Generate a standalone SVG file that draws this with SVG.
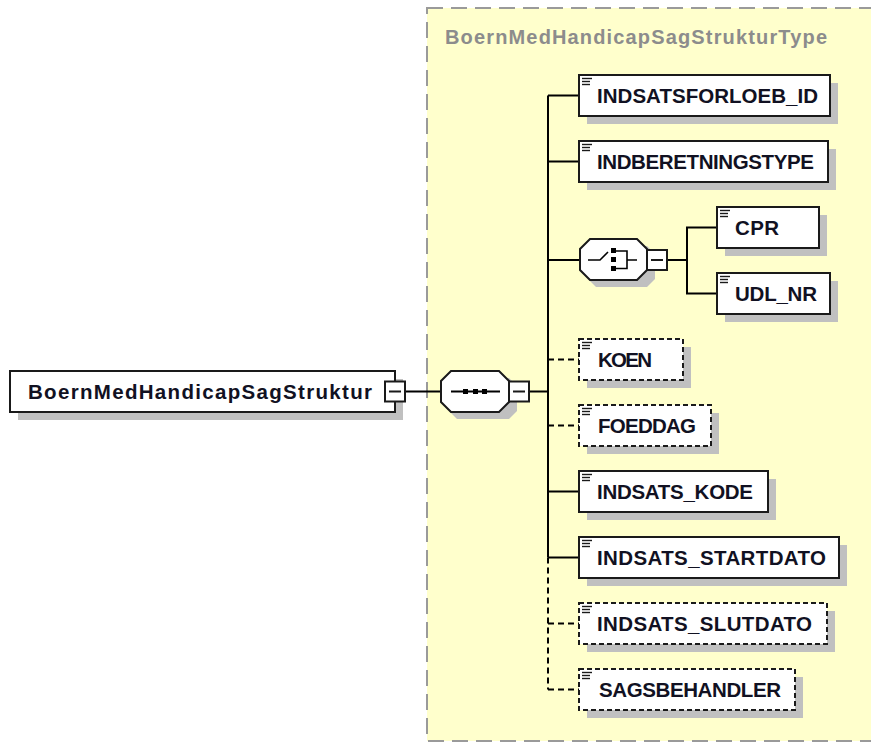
<svg xmlns="http://www.w3.org/2000/svg" width="871" height="742" viewBox="0 0 871 742">
<defs>
<style>
.bg{fill:#ffffff}
.type{fill:#ffffcc;stroke:#9a9a9a;stroke-width:2;stroke-dasharray:16 8}
.title{font-family:"Liberation Sans",Arial,sans-serif;font-weight:bold;font-size:20px;fill:#8c8c8c}
.shadow{fill:#c0c0c0}
.box{fill:#ffffff;stroke:#1a1a1a;stroke-width:2}
.opt{fill:#ffffff;stroke:#1a1a1a;stroke-width:2;stroke-dasharray:5 3}
.lbl{font-family:"Liberation Sans",Arial,sans-serif;font-weight:bold;font-size:20.5px;fill:#111122}
.ico{stroke:#1a1a1a;stroke-width:1.4}
.wire{fill:none;stroke:#000;stroke-width:2}
.dwire{fill:none;stroke:#000;stroke-width:2;stroke-dasharray:6 4}
.mbox{fill:#ffffff;stroke:#1a1a1a;stroke-width:2}
.minus{stroke:#1a1a1a;stroke-width:2}
.sq{fill:#000}
</style>
<g id="elicon"><line class="ico" x1="3" y1="3.5" x2="13" y2="3.5"/><line class="ico" x1="3" y1="6.5" x2="11" y2="6.5"/><line class="ico" x1="3" y1="9.5" x2="11" y2="9.5"/></g>
</defs>
<rect class="bg" x="0" y="0" width="871" height="742"/>
<g id="typebox">
<rect class="type" x="427" y="8" width="470" height="733"/>
<text class="title" x="445" y="44" textLength="382" lengthAdjust="spacing">BoernMedHandicapSagStrukturType</text>
</g>
<g id="connectors">
<line class="wire" x1="405" y1="391.5" x2="441" y2="391.5"/>
<line class="wire" x1="529" y1="391.5" x2="548" y2="391.5"/>
<line class="wire" x1="548" y1="95.5" x2="548" y2="557.5"/>
<line class="dwire" x1="548" y1="557.5" x2="548" y2="689.5"/>
<line class="wire" x1="548" y1="95.5" x2="579" y2="95.5"/>
<line class="wire" x1="548" y1="161.5" x2="579" y2="161.5"/>
<line class="wire" x1="548" y1="260" x2="580" y2="260"/>
<line class="dwire" x1="548" y1="359.5" x2="579" y2="359.5"/>
<line class="dwire" x1="548" y1="425.5" x2="579" y2="425.5"/>
<line class="wire" x1="548" y1="491.5" x2="579" y2="491.5"/>
<line class="wire" x1="548" y1="557.5" x2="579" y2="557.5"/>
<line class="dwire" x1="548" y1="623.5" x2="579" y2="623.5"/>
<line class="dwire" x1="548" y1="689.5" x2="579" y2="689.5"/>
<line class="wire" x1="667" y1="260" x2="687" y2="260"/>
<path class="wire" d="M717 227.5 H687 V293.5 H717"/>
</g>
<g id="root">
<rect class="shadow" x="18" y="379" width="385" height="41"/>
<rect class="box" x="10" y="371" width="385" height="41"/>
<text class="lbl" x="28" y="399" textLength="344" lengthAdjust="spacing">BoernMedHandicapSagStruktur</text>
<rect class="mbox" x="385" y="381.5" width="20" height="20"/>
<line class="minus" x1="389" y1="391.5" x2="401" y2="391.5"/>
</g>
<g id="sequence">
<polygon class="shadow" points="457,378 509,378 517,386 517,411 509,419 457,419 449,411 449,386"/>
<polygon class="box" points="451,371 499,371 509,381 509,402 499,412 451,412 441,402 441,381"/>
<line class="wire" x1="451" y1="391.5" x2="500" y2="391.5"/>
<rect class="sq" x="463" y="389" width="5" height="5"/>
<rect class="sq" x="473" y="389" width="5" height="5"/>
<rect class="sq" x="482" y="389" width="5" height="5"/>
<rect class="mbox" x="509" y="381.5" width="20" height="20"/>
<line class="minus" x1="513" y1="391.5" x2="525" y2="391.5"/>
</g>
<g id="choice">
<polygon class="shadow" points="596,246 647,246 655,254 655,279 647,287 596,287 588,279 588,254"/>
<polygon class="box" points="590,239 637,239 647,249 647,270 637,280 590,280 580,270 580,249"/>
<path class="wire" d="M588 260 H600 L608 252" style="stroke-width:1.6"/>
<rect class="sq" x="611" y="248" width="5" height="5"/>
<rect class="sq" x="611" y="257" width="5" height="5"/>
<rect class="sq" x="611" y="266" width="5" height="5"/>
<path class="wire" d="M616 251 H627 V268.5 H616 M627 260 H637" style="stroke-width:1.6"/>
<rect class="mbox" x="647" y="250" width="20" height="20"/>
<line class="minus" x1="651" y1="260" x2="663" y2="260"/>
</g>
<g id="INDSATSFORLOEB_ID">
<rect class="shadow" x="587" y="83" width="251" height="41"/>
<rect class="box" x="579" y="75" width="251" height="41"/>
<use href="#elicon" x="579" y="75"/>
<text class="lbl" x="597" y="103" textLength="221" lengthAdjust="spacing">INDSATSFORLOEB_ID</text>
</g>
<g id="INDBERETNINGSTYPE">
<rect class="shadow" x="587" y="149" width="249" height="41"/>
<rect class="box" x="579" y="141" width="249" height="41"/>
<use href="#elicon" x="579" y="141"/>
<text class="lbl" x="597" y="169" textLength="217" lengthAdjust="spacing">INDBERETNINGSTYPE</text>
</g>
<g id="CPR">
<rect class="shadow" x="725" y="215" width="102" height="41"/>
<rect class="box" x="717" y="207" width="102" height="41"/>
<use href="#elicon" x="717" y="207"/>
<text class="lbl" x="735" y="235" textLength="44" lengthAdjust="spacing">CPR</text>
</g>
<g id="UDL_NR">
<rect class="shadow" x="725" y="281" width="113" height="41"/>
<rect class="box" x="717" y="273" width="113" height="41"/>
<use href="#elicon" x="717" y="273"/>
<text class="lbl" x="735" y="301" textLength="82" lengthAdjust="spacing">UDL_NR</text>
</g>
<g id="KOEN">
<rect class="shadow" x="587" y="347" width="104" height="41"/>
<rect class="opt" x="579" y="339" width="104" height="41"/>
<use href="#elicon" x="579" y="339"/>
<text class="lbl" x="598" y="367" textLength="54" lengthAdjust="spacing">KOEN</text>
</g>
<g id="FOEDDAG">
<rect class="shadow" x="587" y="413" width="132" height="41"/>
<rect class="opt" x="579" y="405" width="132" height="41"/>
<use href="#elicon" x="579" y="405"/>
<text class="lbl" x="598" y="433" textLength="98" lengthAdjust="spacing">FOEDDAG</text>
</g>
<g id="INDSATS_KODE">
<rect class="shadow" x="587" y="479" width="189" height="41"/>
<rect class="box" x="579" y="471" width="189" height="41"/>
<use href="#elicon" x="579" y="471"/>
<text class="lbl" x="597" y="499" textLength="156" lengthAdjust="spacing">INDSATS_KODE</text>
</g>
<g id="INDSATS_STARTDATO">
<rect class="shadow" x="587" y="545" width="260" height="41"/>
<rect class="box" x="579" y="537" width="260" height="41"/>
<use href="#elicon" x="579" y="537"/>
<text class="lbl" x="597" y="565" textLength="229" lengthAdjust="spacing">INDSATS_STARTDATO</text>
</g>
<g id="INDSATS_SLUTDATO">
<rect class="shadow" x="587" y="611" width="248" height="41"/>
<rect class="opt" x="579" y="603" width="248" height="41"/>
<use href="#elicon" x="579" y="603"/>
<text class="lbl" x="597" y="631" textLength="215" lengthAdjust="spacing">INDSATS_SLUTDATO</text>
</g>
<g id="SAGSBEHANDLER">
<rect class="shadow" x="587" y="677" width="216" height="41"/>
<rect class="opt" x="579" y="669" width="216" height="41"/>
<use href="#elicon" x="579" y="669"/>
<text class="lbl" x="599" y="697" textLength="182" lengthAdjust="spacing">SAGSBEHANDLER</text>
</g>
</svg>
